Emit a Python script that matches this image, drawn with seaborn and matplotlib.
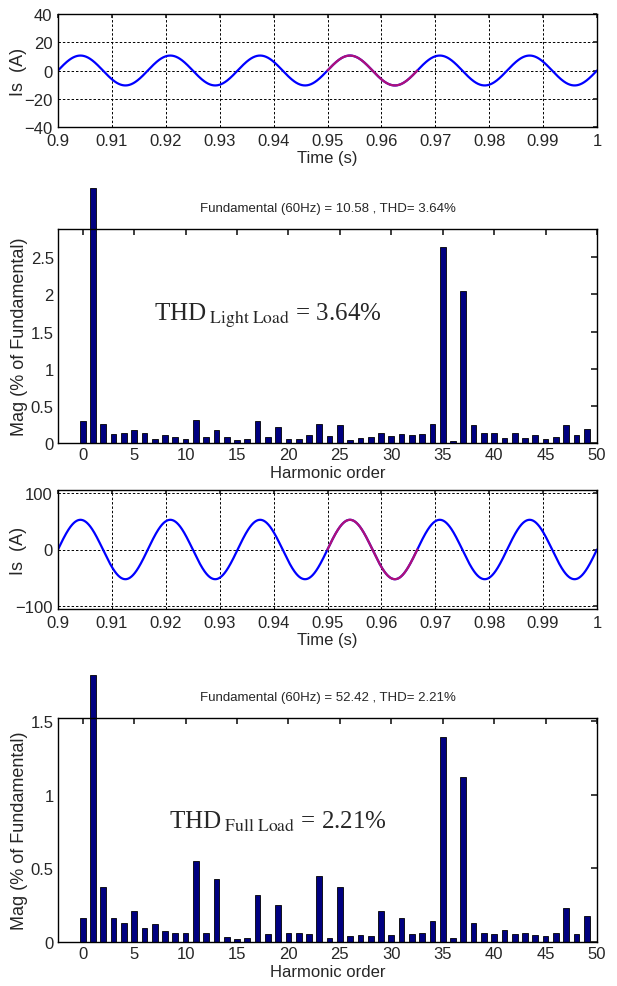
import numpy as np
import pandas as pd
import matplotlib
matplotlib.use("Agg")
import matplotlib.pyplot as plt
import seaborn as sns

# ---------------- data ----------------
harmonics = list(range(50))
mag_light = [0.30, 3.43, 0.25, 0.12, 0.14, 0.18, 0.13, 0.06, 0.11, 0.08,
             0.05, 0.31, 0.085, 0.18, 0.08, 0.045, 0.05, 0.30, 0.08, 0.22,
             0.06, 0.05, 0.11, 0.25, 0.10, 0.24, 0.045, 0.07, 0.085, 0.13,
             0.10, 0.12, 0.11, 0.12, 0.26, 2.64, 0.03, 2.05, 0.24, 0.13,
             0.14, 0.07, 0.14, 0.07, 0.11, 0.06, 0.085, 0.24, 0.11, 0.19]
mag_full = [0.165, 1.81, 0.37, 0.165, 0.127, 0.21, 0.097, 0.12, 0.077, 0.063,
            0.059, 0.55, 0.059, 0.43, 0.032, 0.02, 0.027, 0.32, 0.052, 0.25,
            0.063, 0.063, 0.052, 0.45, 0.027, 0.37, 0.038, 0.045, 0.038, 0.21,
            0.048, 0.16, 0.052, 0.063, 0.14, 1.39, 0.027, 1.12, 0.13, 0.063,
            0.052, 0.084, 0.052, 0.063, 0.048, 0.04, 0.059, 0.23, 0.052, 0.176]
fund_freq = 60.0          # Hz
fund_light = 10.58        # A (peak)
fund_full = 52.42         # A (peak)
thd_light = 3.64
thd_full = 2.21
time_ticks = [0.9, 0.91, 0.92, 0.93, 0.94, 0.95, 0.96, 0.97, 0.98, 0.99, 1.0]
time_tick_labels = ["0.9", "0.91", "0.92", "0.93", "0.94", "0.95", "0.96",
                    "0.97", "0.98", "0.99", "1"]
light_yticks = [-40, -20, 0, 20, 40]
full_yticks = [-100, 0, 100]
harm_ticks = [0, 5, 10, 15, 20, 25, 30, 35, 40, 45, 50]
t_start, t_end = 0.9, 1.0
hl_start = 0.95            # highlighted analysis cycle start

# ---------------- style ----------------
sns.set_theme(style="white")
plt.rcParams["font.family"] = ["Liberation Sans Narrow", "Liberation Sans", "DejaVu Sans"]
plt.rcParams["mathtext.fontset"] = "stix"
plt.rcParams["axes.edgecolor"] = "black"
plt.rcParams["axes.linewidth"] = 1.0

fig = plt.figure(figsize=(6.17, 9.87), dpi=100)
L, W = 58 / 617, (597 - 58) / 617

def fpos(top_px, bottom_px):
    return [L, 1 - bottom_px / 987, W, (bottom_px - top_px) / 987]

ax1 = fig.add_axes(fpos(15, 128))
ax2 = fig.add_axes(fpos(230, 444))
ax3 = fig.add_axes(fpos(491, 610))
ax4 = fig.add_axes(fpos(719, 943))

BLUE = "#0000FF"
MAG = "#B0107A"
NAVY = "#000080"

def wave_panel(ax, amp, yticks, ylim):
    t = np.linspace(t_start, t_end, 3001)
    df = pd.DataFrame({"t": t, "i": amp * np.sin(2 * np.pi * fund_freq * t)})
    sns.lineplot(data=df, x="t", y="i", ax=ax, color=BLUE, lw=1.6, sort=False)
    seg = df[(df.t >= hl_start) & (df.t <= hl_start + 1 / fund_freq)]
    sns.lineplot(data=seg, x="t", y="i", ax=ax, color=MAG, lw=1.6, sort=False)
    ax.set_xlim(t_start, t_end)
    ax.set_ylim(*ylim)
    ax.set_xticks(time_ticks)
    ax.set_xticklabels(time_tick_labels)
    ax.set_yticks(yticks)
    ax.grid(True, linestyle=(0, (2.5, 2)), color="black", linewidth=0.7)
    ax.tick_params(direction="in", length=3, labelsize=12, top=True, right=True,
                   pad=4)
    ax.set_xlabel("Time (s)", fontsize=12, labelpad=2)
    ax.set_ylabel("Is  (A)", fontsize=13, family=["Liberation Sans", "DejaVu Sans"])
    ax.yaxis.set_label_coords(-0.058, 0.5)
    for s in ax.spines.values():
        s.set_visible(True)
        s.set_color("black")

def bar_panel(ax, mags, ylim, yticks, ytlabels, title, label, tx, ty):
    df = pd.DataFrame({"h": harmonics, "m": mags})
    sns.barplot(data=df, x="h", y="m", ax=ax, native_scale=True, color=NAVY,
                width=0.55, edgecolor="black", linewidth=0.6, saturation=1)
    for p in ax.patches:
        p.set_clip_on(False)
    ax.set_xlim(-2.4, 50)
    ax.set_ylim(*ylim)
    ax.set_xticks(harm_ticks)
    ax.set_xticklabels([str(v) for v in harm_ticks])
    ax.set_yticks(yticks)
    ax.set_yticklabels(ytlabels)
    ax.tick_params(direction="in", length=4, labelsize=12, top=True, right=True,
                   pad=3)
    ax.set_xlabel("Harmonic order", fontsize=12, labelpad=2)
    ax.set_ylabel("Mag (% of Fundamental)", fontsize=13,
                  family=["Liberation Sans", "DejaVu Sans"])
    ax.yaxis.set_label_coords(-0.055, 0.5)
    ax.set_title(title, fontsize=9.5, pad=13)
    ax.text(tx, ty, label, fontsize=18, family=["Liberation Serif", "DejaVu Serif"],
            ha="center", va="center")
    for s in ax.spines.values():
        s.set_visible(True)
        s.set_color("black")

wave_panel(ax1, fund_light, light_yticks, (-40, 40))
bar_panel(ax2, mag_light, (0, 2.88), [0, 0.5, 1, 1.5, 2, 2.5],
          ["0", "0.5", "1", "1.5", "2", "2.5"],
          f"Fundamental (60Hz) = {fund_light:.2f} , THD= {thd_light:.2f}%",
          rf"THD$_{{\ \mathrm{{Light\ Load}}}}$ = {thd_light:.2f}%", 18.0, 1.72)
wave_panel(ax3, fund_full, full_yticks, (-105, 105))
bar_panel(ax4, mag_full, (0, 1.52), [0, 0.5, 1, 1.5],
          ["0", "0.5", "1", "1.5"],
          f"Fundamental (60Hz) = {fund_full:.2f} , THD= {thd_full:.2f}%",
          rf"THD$_{{\ \mathrm{{Full\ Load}}}}$ = {thd_full:.2f}%", 19.0, 0.82)

fig.savefig("out.png", dpi=100)
